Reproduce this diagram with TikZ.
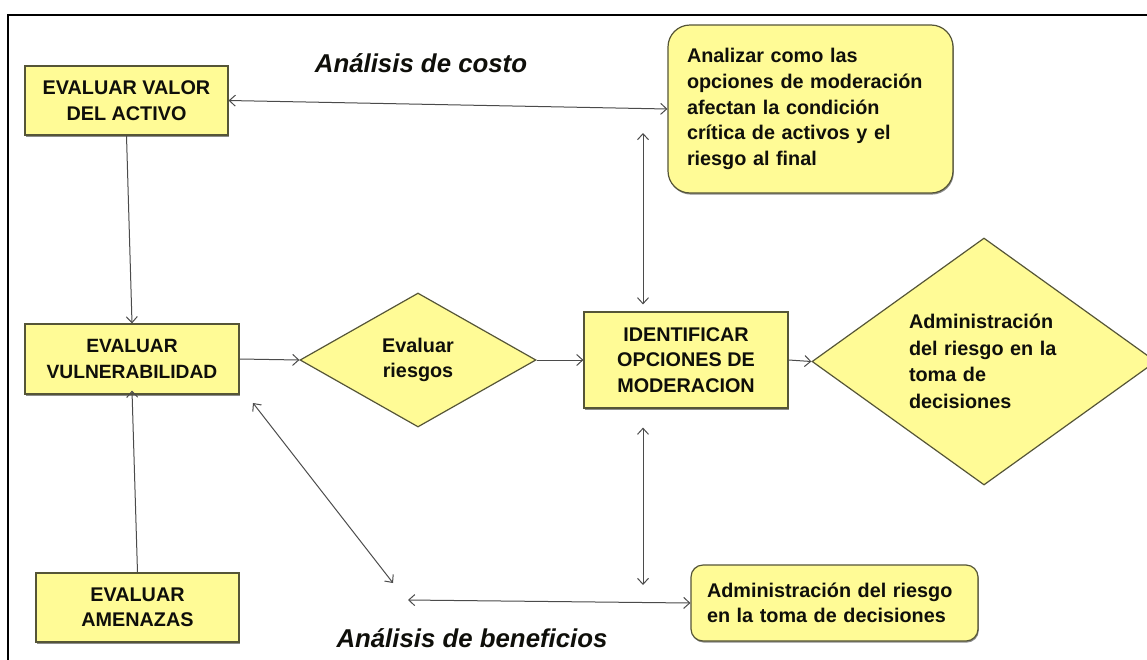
\documentclass[tikz,border=0pt]{standalone}
\usepackage{fontspec}
\setmainfont{Liberation Sans}
\usetikzlibrary{shapes.geometric,arrows.meta,calc,shadows}
\definecolor{boxfill}{RGB}{255,251,150}
\definecolor{boxline}{RGB}{85,85,55}
\definecolor{arr}{RGB}{75,75,75}
\definecolor{txt}{RGB}{15,15,10}
\begin{document}
\begin{tikzpicture}[x=1pt,y=-1pt,
  base/.style={fill=boxfill, draw=boxline, line width=1.2pt, text=txt,
    font=\fontsize{19.8}{25.5}\selectfont\bfseries, inner sep=0pt},
  shad/.style={drop shadow={shadow xshift=0.8pt, shadow yshift=-1.6pt, fill=black, opacity=0.45}},
  sqbox/.style={base, shad, rectangle, align=center},
  rbox/.style={base, shad, rectangle, rounded corners=#1, align=left},
  dia/.style={base, diamond},
  conn/.style={draw=arr, line width=1pt, -{Straight Barb[length=6pt,width=11pt]}},
  both/.style={draw=arr, line width=1pt,
    {Straight Barb[length=6pt,width=11pt]}-{Straight Barb[length=6pt,width=11pt]}},
  title/.style={font=\fontsize{25.8}{30}\selectfont\bfseries\itshape, text=txt, inner sep=0pt}
]
\useasboundingbox (0,0) rectangle (1147,659);
\fill[white] (0,0) rectangle (1147,659);
% frame
\draw[line width=2pt, black] (8,670) -- (8,15) -- (1160,15);

% nodes
\node[sqbox, minimum width=203, minimum height=69] (valor) at (126.5,100.5) {EVALUAR VALOR\\DEL ACTIVO};
\node[sqbox, minimum width=214, minimum height=70, font=\fontsize{19.2}{25.5}\selectfont\bfseries] (vuln) at (132,359) {EVALUAR\\VULNERABILIDAD};
\node[sqbox, minimum width=203, minimum height=69] (amen) at (137.5,607.5) {EVALUAR\\AMENAZAS};
\node[dia, minimum width=236, minimum height=134, align=center, aspect=1.76] (riesgo) at (418,360) {Evaluar\\riesgos};
\node[sqbox, minimum width=204, minimum height=96] (ident) at (686,360) {IDENTIFICAR\\OPCIONES DE\\MODERACION};
\node[dia, minimum width=344, minimum height=247, aspect=1.39, align=left, text width=150,
  font=\fontsize{19.8}{26.5}\selectfont\bfseries] (big) at (984,361.5)
  {Administración\\del riesgo en la\\toma de\\decisiones};
\node[rbox=22pt, minimum width=285, minimum height=168, text width=247,
  font=\fontsize{19.8}{25.8}\selectfont\bfseries] (rtop) at (810.5,109)
  {Analizar como las\\opciones de moderación\\afectan la condición\\crítica de activos y el\\riesgo al final};
\node[rbox=12pt, minimum width=287, minimum height=76, text width=255] (rbot) at (834.5,603)
  {Administración del riesgo\\en la toma de decisiones};

% titles
\node[title] (tcosto) at (421,63) {Análisis de costo};
\node[title] (tbenef) at (472,638) {Análisis de beneficios};

% free ends
\coordinate (c1) at (643,133);
\coordinate (c2) at (643,585);
\coordinate (d1) at (253,403);
\coordinate (d2) at (393,583);
\coordinate (h1) at (408,600);

% connectors
\draw[both] (valor.east) -- (rtop.west);
\draw[conn] (valor.south) -- (vuln.north);
\draw[conn] (amen.north) -- ([yshift=4pt]vuln.south);
\draw[conn] (vuln.east) -- (riesgo.west);
\draw[conn] (riesgo.east) -- (ident.west);
\draw[conn] (ident.east) -- (big.west);
\draw[both, shorten >=7pt] (c1) -- (c1 |- ident.north);
\draw[both, shorten >=19pt] (c2) -- (c2 |- ident.south);
\draw[both] (d1) -- (d2);
\draw[both] (h1) -- (rbot.west);
\end{tikzpicture}
\end{document}
